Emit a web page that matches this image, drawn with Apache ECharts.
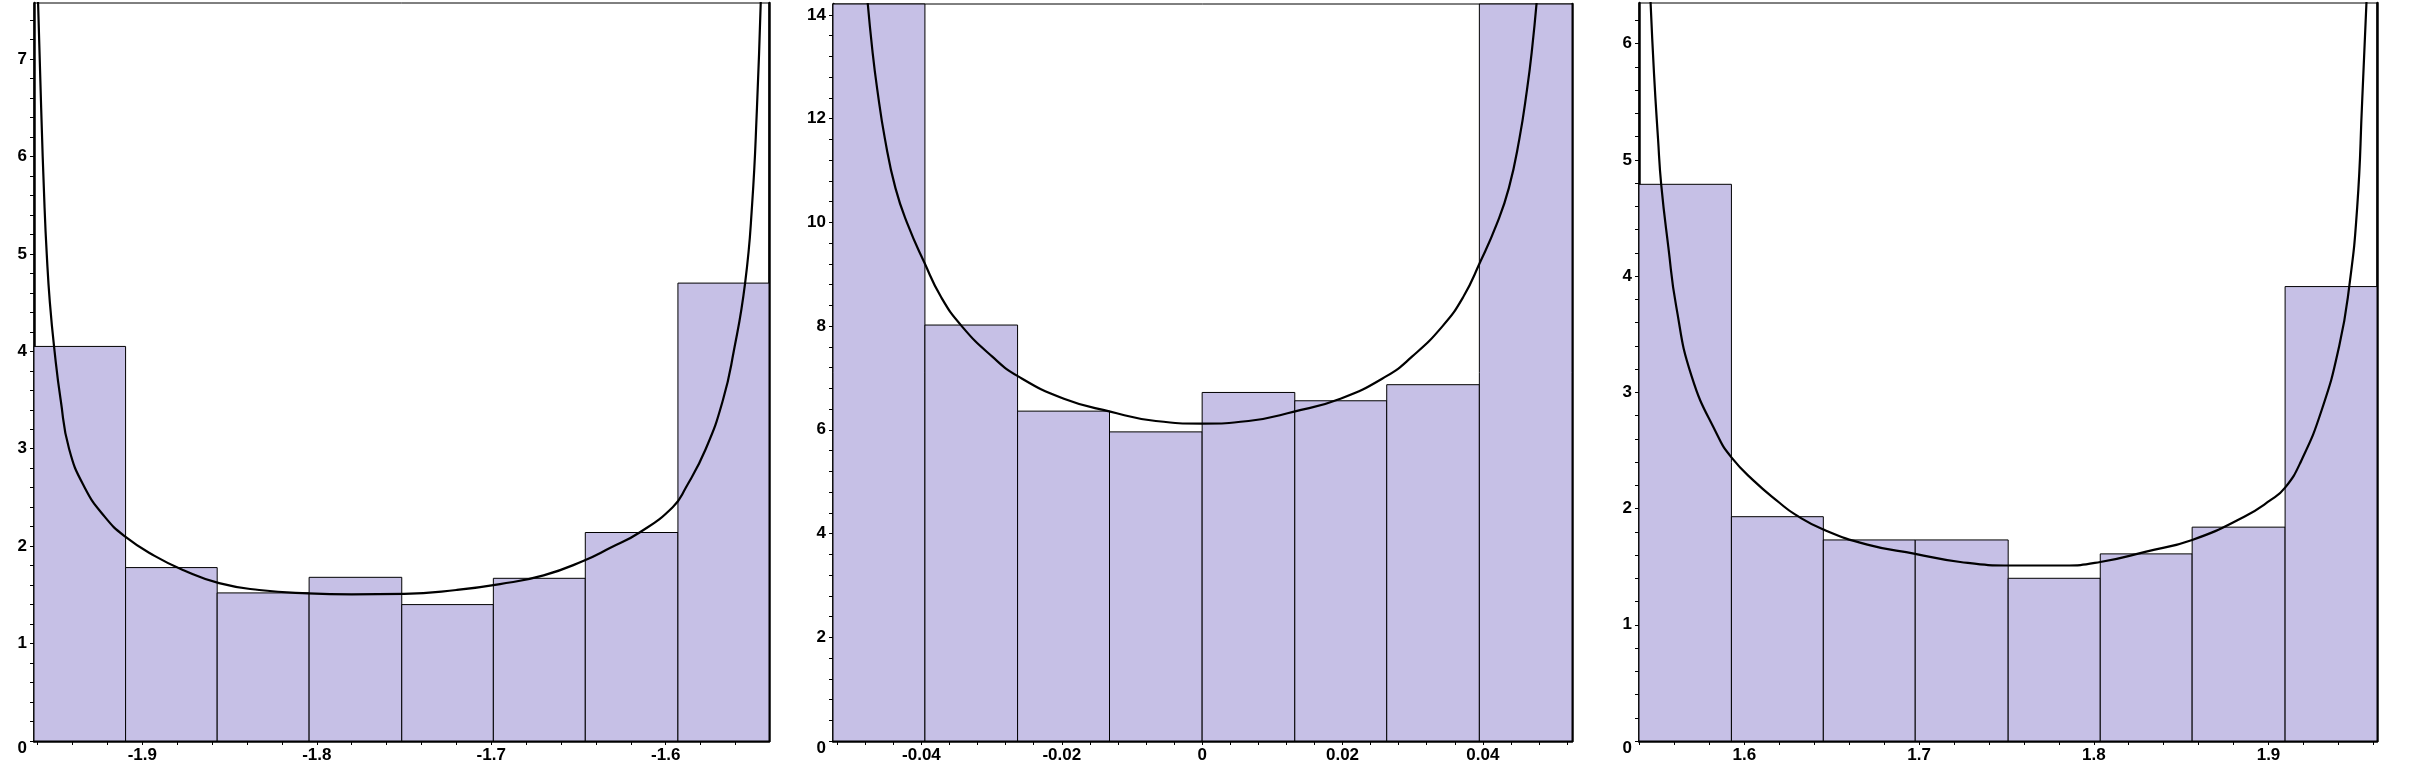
<!DOCTYPE html>
<html>
<head>
  <meta charset="utf-8"/>
  <script src="https://cdn.jsdelivr.net/npm/echarts@6.0.0/dist/echarts.min.js"></script>
  <style>
    body{margin:0;background:#fff;}
  </style>
</head>
<body>
  <div id="chartmain" style="width:2410px; height:776px;"></div>

<script type="text/javascript">
// panel 1 (left)
var edges1 = [-1.9621, -1.9096, -1.8571, -1.8044, -1.7513, -1.6988, -1.6461, -1.5930, -1.5408];
var heights1 = [4.05, 1.78, 1.52, 1.68, 1.40, 1.67, 2.14, 4.70];
var curveX1 = [-1.9598, -1.9580, -1.9561, -1.9548, -1.9530, -1.9503, -1.9468, -1.9420, -1.9330, -1.9215, -1.9100, -1.8930, -1.8760, -1.8560, -1.8330, -1.8050, -1.7800, -1.7500, -1.7200, -1.6950, -1.6700, -1.6470, -1.6320, -1.6150, -1.5960, -1.5885, -1.5770, -1.5672, -1.5610, -1.5545, -1.5505, -1.5477, -1.5455];
var curveY1 = [7.6, 6.5, 5.5, 5.0, 4.5, 4.0, 3.5, 3.0, 2.6, 2.3, 2.1, 1.9, 1.75, 1.62, 1.55, 1.515, 1.505, 1.51, 1.55, 1.61, 1.70, 1.85, 1.98, 2.14, 2.4, 2.6, 3.0, 3.5, 4.0, 4.7, 5.5, 6.5, 7.6];
var xLabels1 = [-1.9, -1.8, -1.7, -1.6];
var yLabels1 = [0, 1, 2, 3, 4, 5, 6, 7];

// panel 2 (middle) - first and last bar run off the top of the plot
var edges2 = [-0.0526, -0.0395, -0.0263, -0.0132, 0, 0.0132, 0.0263, 0.0395, 0.0527];
var heights2 = [17.4, 8.02, 6.36, 5.96, 6.72, 6.56, 6.87, 17.6];
var curveX2 = [-0.0477, -0.0470, -0.0463, -0.0452, -0.0437, -0.0419, -0.0396, -0.0372, -0.0342, -0.0299, -0.0262, -0.0197, -0.0131, -0.0066, 0, 0.0066, 0.0131, 0.0197, 0.0262, 0.0299, 0.0342, 0.0372, 0.0396, 0.0419, 0.0437, 0.0452, 0.0463, 0.0470, 0.0477];
var curveY2 = [14.3, 13.33, 12.57, 11.61, 10.66, 9.94, 9.23, 8.56, 7.99, 7.41, 7.03, 6.60, 6.35, 6.17, 6.12, 6.17, 6.35, 6.60, 7.03, 7.41, 7.99, 8.56, 9.23, 9.94, 10.66, 11.61, 12.57, 13.33, 14.3];
var xLabels2 = [-0.04, -0.02, 0, 0.02, 0.04];
var yLabels2 = [0, 2, 4, 6, 8, 10, 12, 14];

// panel 3 (right)
var edges3 = [1.5397, 1.5926, 1.6452, 1.6978, 1.7510, 1.8037, 1.8563, 1.9095, 1.9621];
var heights3 = [4.79, 1.93, 1.73, 1.73, 1.40, 1.61, 1.84, 3.91];
var curveX3 = [1.5462, 1.5483, 1.5506, 1.5524, 1.5565, 1.5610, 1.5698, 1.5846, 1.5926, 1.6053, 1.6201, 1.6290, 1.6452, 1.6704, 1.6978, 1.7236, 1.7531, 1.7827, 1.8037, 1.8300, 1.8563, 1.8861, 1.9009, 1.9095, 1.9187, 1.9305, 1.9405, 1.9462, 1.9508, 1.9536, 1.9562];
var curveY3 = [6.4, 5.74, 5.18, 4.79, 4.25, 3.74, 3.14, 2.63, 2.44, 2.24, 2.05, 1.95, 1.82, 1.69, 1.61, 1.54, 1.51, 1.51, 1.54, 1.63, 1.73, 1.93, 2.07, 2.18, 2.41, 2.85, 3.4, 3.91, 4.6, 5.5, 6.4];
var xLabels3 = [1.6, 1.7, 1.8, 1.9];
var yLabels3 = [0, 1, 2, 3, 4, 5, 6];

var FONT = "'Liberation Sans', Arial, sans-serif";
var FILL = '#c6c0e6';

// small tick marks between the labelled ones
function steps(from, to, step, lo, hi) {
    var out = [];
    for (var i = 0; from + i * step <= to + 1e-9; i++) {
        var v = Math.round((from + i * step) * 1e6) / 1e6;
        if (v >= lo && v <= hi) out.push(v);
    }
    return out;
}

var panels = [
    {edges: edges1, heights: heights1, cx: curveX1, cy: curveY1, xl: xLabels1, yl: yLabels1,
     ymax: 7.575, xt: [-1.96, -1.54, 0.02], yt: 0.2, box: [34, 3, 735, 738]},
    {edges: edges2, heights: heights2, cx: curveX2, cy: curveY2, xl: xLabels2, yl: yLabels2,
     ymax: 14.21, xt: [-0.052, 0.052, 0.004], yt: 0.4, box: [833, 4, 739, 737]},
    {edges: edges3, heights: heights3, cx: curveX3, cy: curveY3, xl: xLabels3, yl: yLabels3,
     ymax: 6.35, xt: [1.54, 1.96, 0.02], yt: 0.2, box: [1639, 3, 738, 738]}
];

var option = {
    animation: false,
    backgroundColor: '#fff',
    grid: [], xAxis: [], yAxis: [], series: []
};

panels.forEach(function (p, k) {
    var xmin = p.edges[0], xmax = p.edges[p.edges.length - 1];
    option.grid.push({
        left: p.box[0], top: p.box[1], width: p.box[2], height: p.box[3],
        show: true, borderColor: '#000', borderWidth: 1, containLabel: false
    });
    option.xAxis.push({
        type: 'value', gridIndex: k, min: xmin, max: xmax, position: 'bottom',
        axisLine: {onZero: false, lineStyle: {color: '#000', width: 2.5}},
        axisTick: {length: 4, lineStyle: {color: '#000', width: 1},
                   customValues: steps(p.xt[0], p.xt[1], p.xt[2], xmin, xmax)},
        axisLabel: {customValues: p.xl, color: '#000', fontSize: 17, fontWeight: 'bold',
                    fontFamily: FONT, margin: 6},
        splitLine: {show: false}
    });
    option.yAxis.push({
        type: 'value', gridIndex: k, min: 0, max: p.ymax, position: 'left',
        axisLine: {onZero: false, lineStyle: {color: '#000', width: 2.5}},
        axisTick: {length: 4, lineStyle: {color: '#000', width: 1},
                   customValues: steps(0, p.ymax, p.yt, 0, p.ymax)},
        axisLabel: {
            customValues: p.yl, color: '#000', fontSize: 17, fontWeight: 'bold',
            fontFamily: FONT, margin: 7,
            formatter: function (v) { return v === 0 ? '{z|0}' : String(v); },
            rich: {z: {padding: [15, 0, 0, 0], color: '#000', fontSize: 17,
                       fontWeight: 'bold', fontFamily: FONT}}
        },
        splitLine: {show: false}
    });
    // thick right edge of the frame
    option.yAxis.push({
        type: 'value', gridIndex: k, min: 0, max: p.ymax, position: 'right',
        axisLine: {show: true, onZero: false, lineStyle: {color: '#000', width: 2.5}},
        axisTick: {show: false}, axisLabel: {show: false}, splitLine: {show: false}
    });

    var bins = [];
    for (var i = 0; i < p.heights.length; i++) {
        bins.push([p.edges[i], p.edges[i + 1], p.heights[i]]);
    }
    var pts = [];
    for (var j = 0; j < p.cx.length; j++) pts.push([p.cx[j], p.cy[j]]);

    option.series.push({
        type: 'custom', xAxisIndex: k, yAxisIndex: 2 * k,
        encode: {x: [0, 1], y: 2},
        data: bins,
        renderItem: function (params, api) {
            var h = Math.min(api.value(2), p.ymax);
            var a = api.coord([api.value(0), h]);
            var b = api.coord([api.value(1), 0]);
            return {
                type: 'rect',
                shape: {x: a[0], y: a[1], width: b[0] - a[0], height: b[1] - a[1]},
                style: {fill: FILL, stroke: '#000', lineWidth: 1}
            };
        },
        z: 1
    });
    option.series.push({
        type: 'line', xAxisIndex: k, yAxisIndex: 2 * k,
        data: pts, showSymbol: false, symbol: 'none',
        smooth: 0.5, clip: true,
        lineStyle: {color: '#000', width: 2.2},
        z: 3
    });
});

var myChart = echarts.init(document.getElementById('chartmain'));
myChart.setOption(option);
</script>
</body>
</html>
